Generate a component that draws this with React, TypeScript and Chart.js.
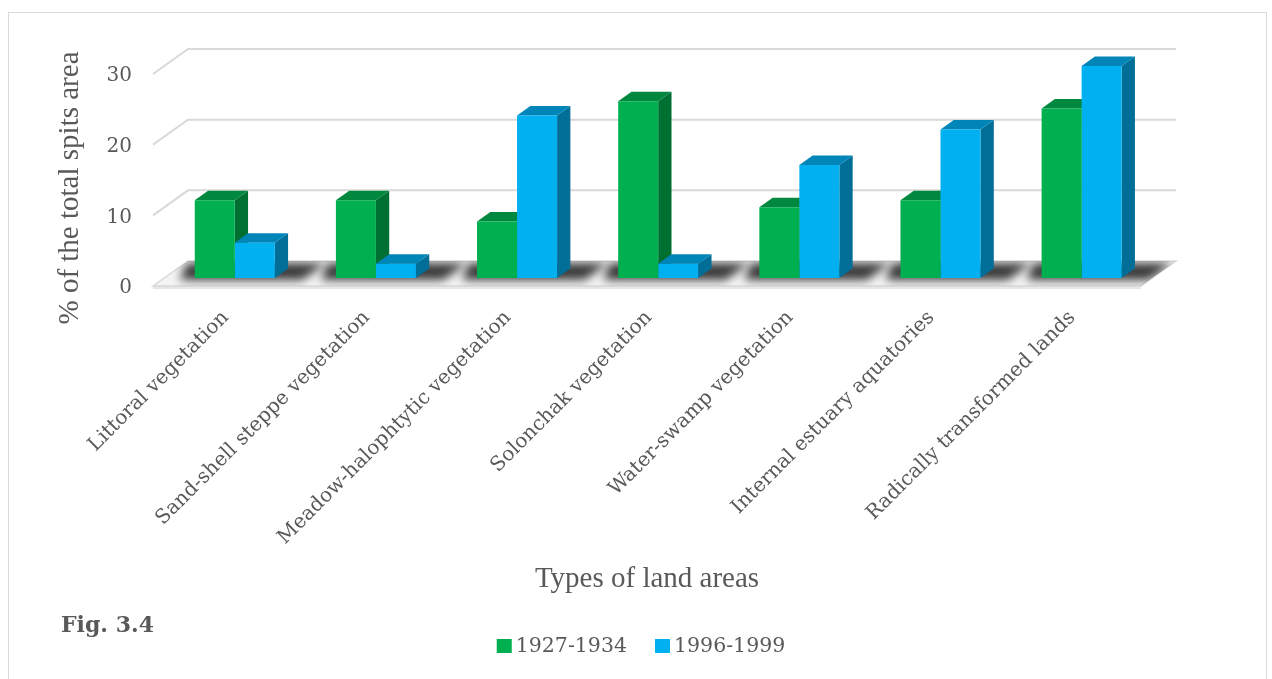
import React, { useEffect, useRef } from 'react';
import { Chart, registerables } from 'chart.js';

Chart.register(...registerables);

// ---- data ----
const categories = [
  'Littoral vegetation',
  'Sand-shell steppe vegetation',
  'Meadow-halophtytic vegetation',
  'Solonchak vegetation',
  'Water-swamp vegetation',
  'Internal estuary aquatories',
  'Radically transformed lands',
];
const seriesLabels = ['1927-1934', '1996-1999'];
const values1927 = [11, 11, 8, 25, 10, 11, 24];
const values1996 = [5, 2, 23, 2, 16, 21, 30];
const yTickValues = [0, 10, 20, 30];
const yAxisTitle = '% of the total spits area';
const xAxisTitle = 'Types of land areas';
const figureCaption = 'Fig. 3.4';

// ---- styling ----
const FRONT = ['#00B050', '#00B0F0'];
const TOP = ['#00883E', '#0085B9'];
const SIDE = ['#006F32', '#006E97'];
const TEXT = '#595959';
const GRID = '#d9d9d9';
const SERIF_UI = '"DejaVu Serif", serif';
const SERIF_TITLE = '"Liberation Serif", "Times New Roman", serif';

// oblique projection of the floor depth and the bar slab inside it
const DEPTH_X = 35;
const DEPTH_Y = -25;
const BAR_FRONT = 0.32; // where the bar front faces sit in the depth
const BAR_DEPTH = 0.38; // thickness of a bar along the depth

const poly = (ctx: CanvasRenderingContext2D, pts: number[][], fill: string) => {
  ctx.beginPath();
  ctx.moveTo(pts[0][0], pts[0][1]);
  for (let i = 1; i < pts.length; i++) ctx.lineTo(pts[i][0], pts[i][1]);
  ctx.closePath();
  ctx.fillStyle = fill;
  ctx.fill();
};

const tracePath = (ctx: CanvasRenderingContext2D, pts: number[][]) => {
  ctx.beginPath();
  pts.forEach((p, i) => (i ? ctx.lineTo(p[0], p[1]) : ctx.moveTo(p[0], p[1])));
  ctx.closePath();
};

const box3d = {
  id: 'box3d',
  beforeDatasetsDraw(chart: any) {
    const { ctx, chartArea: a, scales } = chart;
    const y = scales.y;
    const y0 = y.getPixelForValue(0);
    const ox = DEPTH_X * BAR_FRONT;
    const oy = DEPTH_Y * BAR_FRONT;
    const bdx = DEPTH_X * BAR_DEPTH;
    const bdy = DEPTH_Y * BAR_DEPTH;

    ctx.save();
    // floor slab
    const floor = [
      [a.left, y0],
      [a.right, y0],
      [a.right + DEPTH_X, y0 + DEPTH_Y],
      [a.left + DEPTH_X, y0 + DEPTH_Y],
    ];
    poly(ctx, [[a.left, y0], [a.right, y0], [a.right, y0 + 3], [a.left, y0 + 3]], '#e6e6e6');
    poly(ctx, floor, '#f4f4f4');
    ctx.strokeStyle = GRID;
    ctx.lineWidth = 1.5;
    tracePath(ctx, floor);
    ctx.stroke();

    // wall gridlines: left-side diagonal and back line for every tick
    ctx.lineWidth = 2;
    ctx.strokeStyle = GRID;
    y.ticks.forEach((t: any) => {
      if (t.value === 0) return;
      const yp = y.getPixelForValue(t.value);
      ctx.beginPath();
      ctx.moveTo(a.left, yp);
      ctx.lineTo(a.left + DEPTH_X, yp + DEPTH_Y);
      ctx.lineTo(a.right + DEPTH_X, yp + DEPTH_Y);
      ctx.stroke();
    });

    // soft shadows under each group of bars
    const m0 = chart.getDatasetMeta(0).data;
    const m1 = chart.getDatasetMeta(1).data;
    ctx.save();
    tracePath(ctx, floor);
    ctx.clip();
    ctx.filter = 'blur(5px)';
    m0.forEach((b0: any, i: number) => {
      const b1 = m1[i];
      const l = b0.x - b0.width / 2 + ox - 15;
      const r = b1.x + b1.width / 2 + ox + bdx + 14;
      const by = y0 + oy + 2;
      const yb = y0 + DEPTH_Y + 2;
      const skew = (yb - by) * (DEPTH_X / DEPTH_Y);
      poly(ctx, [[l, by], [r, by], [r + skew, yb], [l + skew * 0.3, yb]], 'rgba(25,25,25,0.85)');
    });
    ctx.restore();

    // top and side faces, first series then second
    [0, 1].forEach((d) => {
      chart.getDatasetMeta(d).data.forEach((el: any) => {
        const p = el.getProps(['x', 'y', 'base', 'width'], true);
        const left = p.x - p.width / 2 + ox;
        const right = p.x + p.width / 2 + ox;
        const ty = p.y + oy;
        const by = p.base + oy;
        poly(ctx, [[right, ty], [right + bdx, ty + bdy], [right + bdx, by + bdy], [right, by]], SIDE[d]);
        poly(ctx, [[left, ty], [right, ty], [right + bdx, ty + bdy], [left + bdx, ty + bdy]], TOP[d]);
      });
    });
    ctx.restore();

    // front faces are drawn by the bar controller, shifted into the depth
    ctx.save();
    ctx.translate(ox, oy);
  },
  afterDatasetsDraw(chart: any) {
    chart.ctx.restore();
  },
  afterDraw(chart: any) {
    const { ctx, chartArea: a } = chart;
    ctx.save();

    // value axis title, rotated along the left wall
    ctx.font = `29px ${SERIF_TITLE}`;
    ctx.fillStyle = TEXT;
    ctx.textAlign = 'center';
    ctx.textBaseline = 'middle';
    ctx.translate(70, (a.top + a.bottom) / 2 + 8);
    ctx.rotate(-Math.PI / 2);
    ctx.fillText(yAxisTitle, 0, 0);
    ctx.setTransform(1, 0, 0, 1, 0, 0);

    // legend
    ctx.font = `20.5px ${SERIF_UI}`;
    ctx.textBaseline = 'middle';
    ctx.textAlign = 'left';
    const box = 14;
    const gapText = 5;
    const gapItems = 28;
    const items = chart.data.datasets.map((ds: any) => ({
      text: ds.label,
      color: ds.backgroundColor,
      w: ctx.measureText(ds.label).width,
    }));
    const total =
      items.reduce((s: number, it: any) => s + box + gapText + it.w, 0) + gapItems * (items.length - 1);
    let x = (a.left + a.right) / 2 - 6 - total / 2;
    const cy = chart.height - 33;
    items.forEach((it: any) => {
      ctx.fillStyle = it.color;
      ctx.fillRect(x, cy - box / 2, box + 1, box);
      x += box + gapText;
      ctx.fillStyle = TEXT;
      ctx.fillText(it.text, x, cy + 1);
      x += it.w + gapItems;
    });

    // figure caption
    ctx.font = `bold 22px ${SERIF_UI}`;
    ctx.textBaseline = 'alphabetic';
    ctx.fillStyle = TEXT;
    ctx.fillText(figureCaption, 61, 632);
    ctx.restore();
  },
};

export default function App() {
  const ref = useRef<HTMLCanvasElement>(null);

  useEffect(() => {
    if (!ref.current) return;
    const chart = new Chart(ref.current, {
      type: 'bar',
      data: {
        labels: categories,
        datasets: [
          { label: seriesLabels[0], data: values1927, backgroundColor: FRONT[0], borderWidth: 0, clip: false as any },
          { label: seriesLabels[1], data: values1996, backgroundColor: FRONT[1], borderWidth: 0, clip: false as any },
        ],
      },
      options: {
        responsive: false,
        animation: false,
        events: [],
        layout: { padding: { left: 40, right: 131, top: 74, bottom: 82 } },
        datasets: { bar: { categoryPercentage: 0.567, barPercentage: 1 } },
        plugins: {
          legend: { display: false },
          tooltip: { enabled: false },
        },
        scales: {
          x: {
            grid: { display: false, drawTicks: false },
            border: { display: false },
            ticks: {
              autoSkip: false,
              minRotation: 45,
              maxRotation: 45,
              padding: 20,
              labelOffset: 2,
              color: TEXT,
              font: { family: SERIF_UI, size: 20 },
            },
            title: {
              display: true,
              text: xAxisTitle,
              color: TEXT,
              font: { family: SERIF_TITLE, size: 29 },
              padding: { top: 0, bottom: 0 },
            },
            afterFit: (s: any) => {
              s.height = 311;
            },
          },
          y: {
            min: 0,
            max: 30,
            grid: { display: false, drawTicks: false },
            border: { display: false },
            afterBuildTicks: (s: any) => {
              s.ticks = yTickValues.map((v) => ({ value: v }));
            },
            ticks: {
              padding: 21,
              labelOffset: 2,
              color: TEXT,
              font: { family: SERIF_UI, size: 20 },
            },
            afterFit: (s: any) => {
              s.width = 113;
            },
          },
        },
      },
      plugins: [box3d],
    });
    return () => chart.destroy();
  }, []);

  return (
    <div style={{ position: 'absolute', left: 0, top: 0, width: 1272, height: 679, background: '#fff', overflow: 'hidden' }}>
      <div
        style={{
          position: 'absolute',
          left: 8,
          top: 12,
          width: 1259,
          height: 720,
          border: `1px solid ${GRID}`,
          boxSizing: 'border-box',
        }}
      />
      <canvas ref={ref} width={1272} height={679} style={{ position: 'absolute', left: 0, top: 0 }} />
    </div>
  );
}
